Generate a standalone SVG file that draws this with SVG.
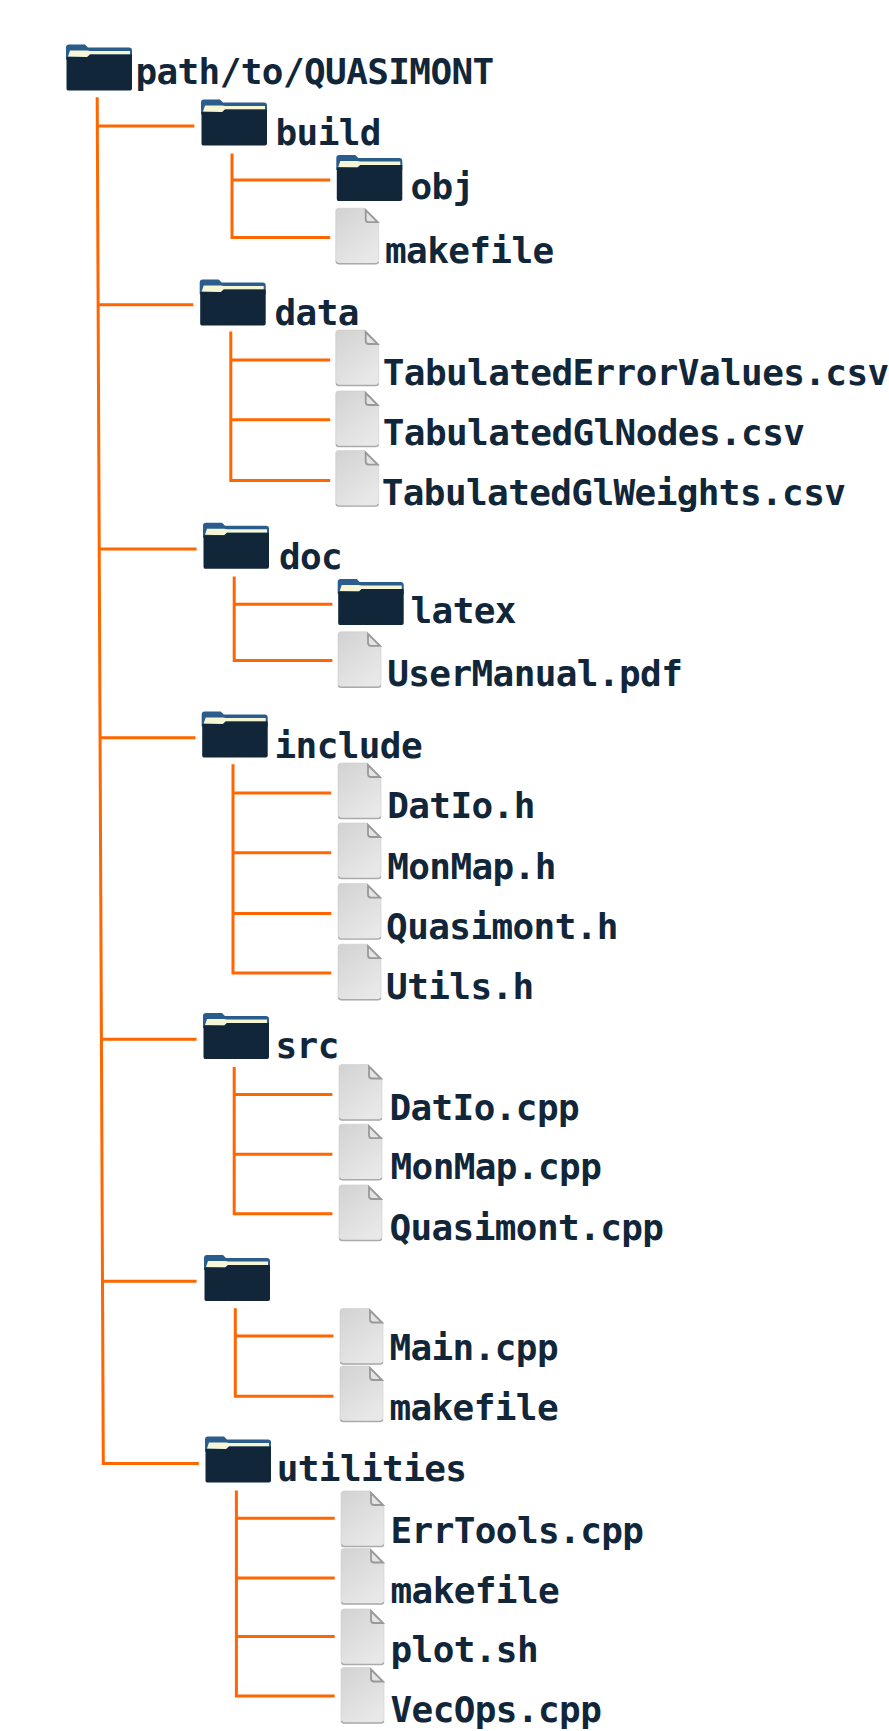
<svg xmlns="http://www.w3.org/2000/svg" width="889" height="1731" viewBox="0 0 889 1731">
<style>
text{font-family:"DejaVu Sans Mono","Liberation Mono",monospace;font-weight:bold;font-size:36px;letter-spacing:-0.6px;fill:#12263a}
.c{fill:none;stroke:#ff6600;stroke-width:3}
</style>
<defs>
<linearGradient id="fg" x1="0" y1="0" x2="0.6" y2="1"><stop offset="0" stop-color="#d2d2d2"/><stop offset="1" stop-color="#e8e8e8"/></linearGradient>
<symbol id="folder" width="66" height="46" overflow="visible">
<path d="M0,3Q0,0 3,0H19L22,3H63Q66,3 66,6V15H0Z" fill="#2a5d8c"/>
<path d="M2,12L4,6H21L24,6.5H64V10H24L21,12.5Z" fill="#f6f6d6"/>
<path d="M0.5,12.5H21.5L24,10H66V44Q66,46 64,46H2Q0.5,46 0.5,44Z" fill="#12263a"/>
</symbol>
<symbol id="file" width="43" height="56" overflow="visible">
<path d="M3,0H29L43,14V53Q43,55.5 40,55.5H3Q0,55.5 0,53V3Q0,0 3,0Z" fill="url(#fg)" stroke="#cccccc" stroke-width="0.6"/>
<path d="M0.5,53.5Q1,55.5 3,55.5H40Q42.5,55.5 42.5,53.5" fill="none" stroke="#aaaaaa" stroke-width="1.4"/>
<path d="M30,2L42,14H33Q30,14 30,11Z" fill="#e4e4e4" stroke="#999999" stroke-width="1.8"/>
</symbol>
</defs>
<rect width="889" height="1731" fill="#ffffff"/>
<g id="connectors">
<path class="c" d="M97.2,97.2L103.3,1463.4H198.8"/>
<path class="c" d="M97.3,125.9H194.4M98,304.8H193.3M99,548.9H196.6M99.8,737.8H195.5M101,1039.3H196.6M102,1281.2H196.6"/>
<path class="c" d="M232,153.5V237.5H330.2M232,180H330.2"/>
<path class="c" d="M230.8,331.4V480.5H330.2M230.8,360H330.2M230.8,419.7H330.2"/>
<path class="c" d="M234.2,576.5V660.5H332.4M234.2,604.2H332.4"/>
<path class="c" d="M233,764.3V973H331.3M233,793H331.3M233,852.7H331.3M233,913.4H331.3"/>
<path class="c" d="M234.2,1067V1213.8H332.4M234.2,1094.6H332.4M234.2,1154.3H332.4"/>
<path class="c" d="M235.3,1308.3V1396.3H333.5M235.3,1335.9H333.5"/>
<path class="c" d="M236.4,1490.5V1695.9H334.7M236.4,1518.2H334.7M236.4,1577.9H334.7M236.4,1636.4H334.7"/>
</g>
<g id="n-root"><use href="#folder" x="66" y="44.5"/><text x="135.4" y="84">path/to/QUASIMONT</text></g>
<g id="n-build"><use href="#folder" x="201" y="99.5"/><text x="275.5" y="145.3">build</text></g>
<g id="n-obj"><use href="#folder" x="336.3" y="155"/><text x="410.5" y="198.8">obj</text></g>
<g id="n-build-makefile"><use href="#file" x="335.7" y="208.2"/><text x="385" y="262.9">makefile</text></g>
<g id="n-data"><use href="#folder" x="199.7" y="279.5"/><text x="274.5" y="324.7">data</text></g>
<g id="n-tev"><use href="#file" x="335.7" y="330"/><text x="382.8" y="385.3">TabulatedErrorValues.csv</text></g>
<g id="n-tgn"><use href="#file" x="335.7" y="391"/><text x="382.8" y="445">TabulatedGlNodes.csv</text></g>
<g id="n-tgw"><use href="#file" x="335.7" y="450.6"/><text x="381.7" y="504.7">TabulatedGlWeights.csv</text></g>
<g id="n-doc"><use href="#folder" x="203" y="522.8"/><text x="278.9" y="568.8">doc</text></g>
<g id="n-latex"><use href="#folder" x="337.7" y="579"/><text x="410.5" y="622.9">latex</text></g>
<g id="n-usermanual"><use href="#file" x="338" y="631.8"/><text x="387.2" y="685.9">UserManual.pdf</text></g>
<g id="n-include"><use href="#folder" x="201.7" y="711.5"/><text x="274.5" y="757.7">include</text></g>
<g id="n-datio-h"><use href="#file" x="338" y="763"/><text x="387.2" y="818.4">DatIo.h</text></g>
<g id="n-monmap-h"><use href="#file" x="338" y="823"/><text x="387.2" y="879.2">MonMap.h</text></g>
<g id="n-quasimont-h"><use href="#file" x="338" y="883.6"/><text x="386.1" y="938.5">Quasimont.h</text></g>
<g id="n-utils-h"><use href="#file" x="338" y="944.2"/><text x="386.1" y="998.5">Utils.h</text></g>
<g id="n-src"><use href="#folder" x="203" y="1013"/><text x="275.5" y="1057.5">src</text></g>
<g id="n-datio-cpp"><use href="#file" x="339" y="1064.5"/><text x="389.4" y="1119.5">DatIo.cpp</text></g>
<g id="n-monmap-cpp"><use href="#file" x="339" y="1124.2"/><text x="390.5" y="1179.3">MonMap.cpp</text></g>
<g id="n-quasimont-cpp"><use href="#file" x="339" y="1185"/><text x="389.4" y="1239.9">Quasimont.cpp</text></g>
<g id="n-unnamed"><use href="#folder" x="204" y="1255"/></g>
<g id="n-main-cpp"><use href="#file" x="340" y="1308.5"/><text x="389.4" y="1360.2">Main.cpp</text></g>
<g id="n-main-makefile"><use href="#file" x="340" y="1366"/><text x="389.4" y="1420.2">makefile</text></g>
<g id="n-utilities"><use href="#folder" x="205" y="1436.5"/><text x="276.7" y="1481.1">utilities</text></g>
<g id="n-errtools"><use href="#file" x="341" y="1491"/><text x="390.5" y="1542.5">ErrTools.cpp</text></g>
<g id="n-util-makefile"><use href="#file" x="341" y="1548.5"/><text x="390.5" y="1602.6">makefile</text></g>
<g id="n-plot"><use href="#file" x="341" y="1609"/><text x="390.5" y="1662.3">plot.sh</text></g>
<g id="n-vecops"><use href="#file" x="341" y="1667.5"/><text x="390.5" y="1721.9">VecOps.cpp</text></g>
</svg>
